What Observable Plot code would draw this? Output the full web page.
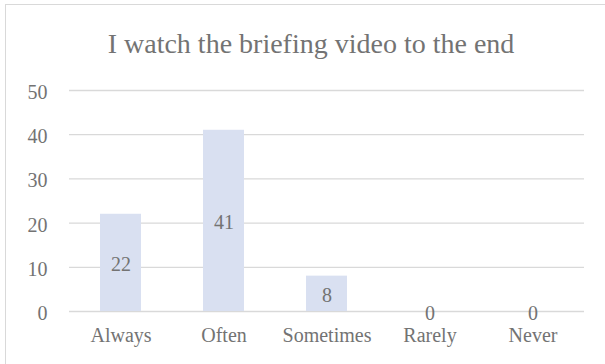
<!DOCTYPE html>
<html>
<head>
<meta charset="utf-8">
<script src="https://cdn.jsdelivr.net/npm/d3@7"></script>
<script src="https://cdn.jsdelivr.net/npm/@observablehq/plot@0.6"></script>
<style>
  html, body { margin: 0; padding: 0; background: #fff; overflow: hidden; }
  #wrap { position: relative; width: 605px; height: 364px; }
  #frame { position: absolute; left: 5px; top: 4px; width: 700px; height: 500px;
           border-left: 1px solid #d9d9d9; border-top: 1px solid #d9d9d9; pointer-events: none; }
</style>
</head>
<body>
<div id="wrap"><div id="frame"></div></div>
<script>
const title = "I watch the briefing video to the end";
const categories = ["Always", "Often", "Sometimes", "Rarely", "Never"];
const values = [22, 41, 8, 0, 0];
const yTicks = [0, 10, 20, 30, 40, 50];

const data = categories.map((c, i) => ({category: c, value: values[i]}));
const serif = "'Times New Roman', 'Liberation Serif', serif";
const textColor = "#737373";

const chart = Plot.plot({
  width: 605,
  height: 364,
  marginLeft: 69,
  marginRight: 21,
  marginTop: 90,
  marginBottom: 53,
  style: {fontFamily: serif, fontSize: "20px", color: textColor, background: "transparent"},
  x: {domain: categories, paddingInner: 0.6, paddingOuter: 0.3, label: null},
  y: {domain: [0, 50], label: null},
  marks: [
    Plot.gridY(yTicks, {stroke: "#d9d9d9", strokeOpacity: 1, strokeWidth: 1.3}),
    Plot.barY(data, {x: "category", y: "value", fill: "#d9e0f1"}),
    Plot.axisY(yTicks, {tickSize: 0, tickPadding: 22, dy: 2, label: null, fill: textColor}),
    Plot.axisX({tickSize: 0, tickPadding: 16, label: null, fill: textColor}),
    Plot.text(data, {x: "category", y: d => d.value / 2, text: d => String(d.value),
      fill: textColor, fontSize: 20, dy: 2}),
    Plot.text([title], {frameAnchor: "top", lineAnchor: "bottom", dy: -38, dx: -16,
      fontSize: 28, fill: textColor, text: d => d})
  ]
});
chart.style.position = "absolute";
chart.style.left = "0";
chart.style.top = "0";
document.getElementById("wrap").prepend(chart);
</script>
</body>
</html>
